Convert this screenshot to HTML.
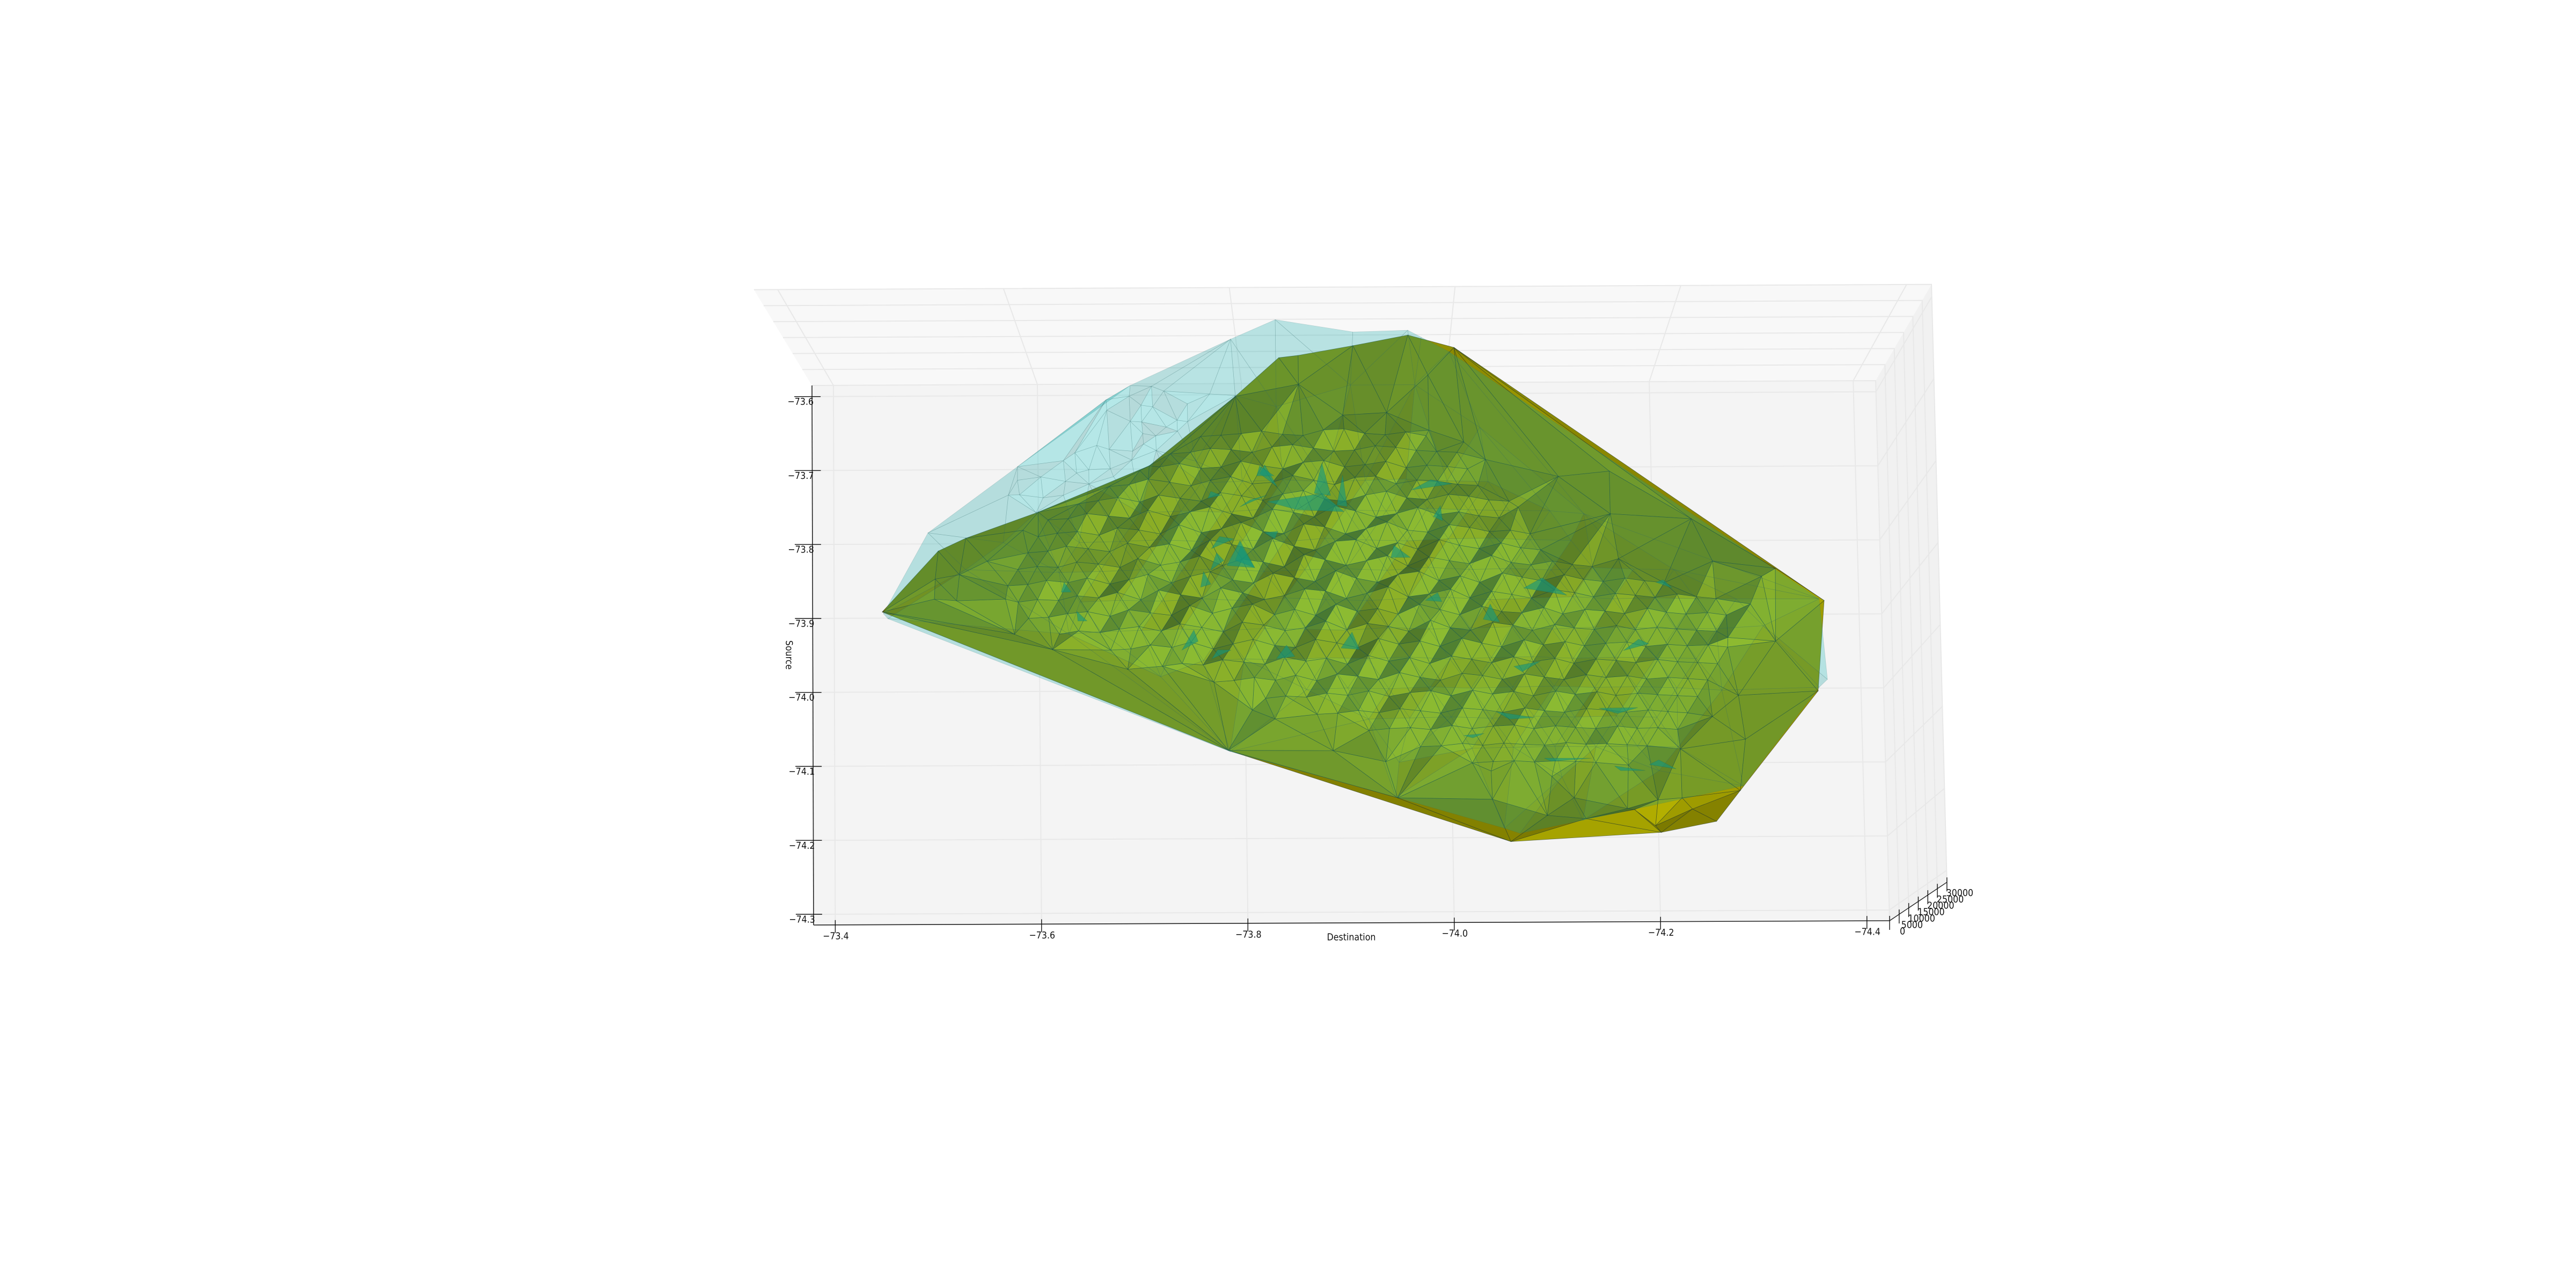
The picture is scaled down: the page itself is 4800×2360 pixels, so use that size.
<!DOCTYPE html>
<html lang="en">
<head>
<meta charset="utf-8">
<title>Trip surface by source and destination</title>
<style>
  html, body { margin: 0; padding: 0; background: #fff; }
  #chart { display: block; width: 4800px; height: 2360px; }
  text { font-family: "DejaVu Sans", "Liberation Sans", sans-serif; font-size: 18px; fill: #111; }
</style>
</head>
<body>
<svg id="chart" xmlns="http://www.w3.org/2000/svg" width="4800" height="2360" viewBox="0 0 4800 2360">
  <g id="walls"></g>
  <g id="grid"></g>
  <g id="surfaces"></g>
  <g id="axes"></g>
</svg>
<script>
const destinationTicks = [-73.4, -73.6, -73.8, -74.0, -74.2, -74.4];
const sourceTicks = [-73.6, -73.7, -73.8, -73.9, -74.0, -74.1, -74.2, -74.3];
const tripTicks = [0, 5000, 10000, 15000, 20000, 25000, 30000];
const destinationTickLabels = ['\u221273.4', '\u221273.6', '\u221273.8', '\u221274.0', '\u221274.2', '\u221274.4'];
const sourceTickLabels = ['\u221273.6', '\u221273.7', '\u221273.8', '\u221273.9', '\u221274.0', '\u221274.1', '\u221274.2', '\u221274.3'];
const tripTickLabels = ['0', '5000', '10000', '15000', '20000', '25000', '30000'];

const yellowOutline = [
  [-73.447,-73.892,100],[-73.502,-73.810,100],[-73.600,-73.758,100],[-73.709,-73.696,100],
  [-73.837,-73.551,150],[-73.856,-73.548,150],[-73.910,-73.535,100],[-73.964,-73.521,100],
  [-74.009,-73.538,100],[-74.366,-73.882,100],[-74.358,-74.004,100],[-74.280,-74.138,100],
  [-74.256,-74.180,300],[-74.202,-74.195,500],[-74.056,-74.207,700],[-73.783,-74.081,100]
];
const yellowOuterMesh = [
  [-73.499,-73.848,150],[-73.523,-73.843,350],[-73.498,-73.875,100],[-73.520,-73.878,300],
  [-73.568,-73.877,600],[-73.576,-73.923,150],[-73.585,-73.783,250],[-73.529,-73.793,150],
  [-73.550,-73.825,350],[-73.613,-73.944,200],[-73.686,-73.971,200],[-73.807,-74.027,250],
  [-73.829,-74.040,600],[-73.885,-74.082,150],[-73.936,-74.098,500],[-73.947,-74.146,100],
  [-74.039,-74.149,300],[-74.092,-74.171,250],[-74.118,-74.148,600],[-74.170,-74.162,200],
  [-74.199,-74.152,900],[-74.223,-74.148,300],[-74.038,-74.112,800],[-74.097,-74.119,500],
  [-74.171,-74.105,900],[-74.222,-74.083,700],[-74.254,-74.039,500],[-74.268,-73.939,2600],
  [-74.291,-73.893,2200],[-74.302,-73.857,2500],[-74.257,-73.831,900],[-74.166,-73.825,300],
  [-74.069,-73.755,350],[-74.038,-73.690,200],[-74.017,-73.666,150],[-73.983,-73.650,200],
  [-73.899,-73.629,150],[-73.856,-73.587,150],[-73.794,-73.603,150],[-73.942,-73.626,200],
  [-73.983,-73.575,100],[-74.317,-73.938,600],[-74.280,-74.010,300],[-74.286,-74.069,200],
  [-74.109,-73.713,150],[-74.159,-73.764,200],[-74.159,-73.706,100],[-74.238,-73.771,150],
  [-74.317,-73.843,1500],[-74.176,-74.165,900],[-74.197,-74.185,100],[-74.129,-74.177,900],
  [-74.233,-74.163,200]
];
const meshRowSource = [-73.66,-73.682,-73.704,-73.726,-73.748,-73.77,-73.792,-73.814,-73.836,-73.858,-73.88,-73.902,-73.924,-73.946,-73.968,-73.99,-74.012,-74.034,-74.056,-74.078,-74.1];
const meshRowStart = [-73.76,-73.73,-73.70,-73.67,-73.64,-73.61,-73.60,-73.59,-73.58,-73.57,-73.58,-73.59,-73.62,-73.67,-73.72,-73.77,-73.82,-73.87,-73.92,-73.97,-74.02];
const meshRowStep = 0.02;
const meshRowTrips = [
  [900,1300,1800,2600,1500,1100,2900,3200,1700,1200,2100,800],
  [600,1100,2400,1900,1000,2800,3500,2300,1300,1600,3000,2500,1400,1000,700],
  [500,1700,2900,1200,1600,3600,2000,900,3100,3700,1500,2200,3300,1100,1900,1400,600],
  [700,1300,3200,2100,800,2700,4000,1400,1900,4300,2600,1000,3500,3900,1200,2400,2000,900,500],
  [400,1500,2600,900,3400,2200,1100,4200,3000,1300,3600,4800,1700,900,3100,4400,2000,1400,3200,2500,1100,600],
  [500,900,2800,1800,1000,3900,1500,3200,5000,2400,800,4100,2900,1200,5200,3300,1000,2300,4500,1800,2800,1300,500],
  [300,1600,2200,800,3500,2700,1200,4600,1600,3000,5400,1900,1100,4700,3600,900,2800,5300,2200,1400,4200,3100,1500,2000,600],
  [400,1000,2900,1900,700,4000,2300,3600,1100,5100,3300,1400,5600,2500,1000,4300,4900,1600,3700,1200,4800,2600,1300,3400,1500,700],
  [300,1400,1100,3100,2300,900,4400,1700,3000,5300,1500,4000,2800,900,5700,3600,1400,3200,5100,1000,4500,3000,1800,5000,2200,1200,2700,1300,500],
  [300,800,2400,1500,3300,800,2600,4700,1200,3800,5600,2300,1000,4900,3100,1500,5800,2700,1100,4200,5400,1700,3500,900,4600,2900,1400,3800,1900,1000,2300,1200,400],
  [250,1300,900,2800,1900,4100,1000,5000,3000,1600,5800,3700,900,2500,5200,4300,1200,3300,6000,1800,2900,4900,1200,3900,2600,1000,4400,3200,1400,2800,2000,1100,2400,1300,500],
  [300,700,2200,3000,1000,3700,2400,1300,5400,2100,4200,5900,1400,3600,1000,5700,2700,3800,1400,5500,3300,1000,4600,2300,1700,3900,1200,3000,2300,1200,3400,1700,900,1500,400],
  [400,1800,1000,2500,3600,1500,4700,3100,1100,5300,4000,1500,2800,5600,1800,4500,3200,1000,5800,2500,1400,4800,3500,1200,3700,2200,1500,3100,1300,2400,1500,900,450],
  [500,1000,2700,1600,3900,800,3000,5000,2200,1300,4900,3300,1100,5200,2600,4000,1500,5100,2900,1200,4300,2000,3400,1500,2600,3100,1100,2000,1300,1600,700],
  [500,1700,1000,3300,2200,1200,4400,2500,3800,1000,5000,2300,3900,1200,4600,3000,1400,4100,1800,3300,1000,2900,2200,1200,2600,1500,1100,600],
  [600,1300,2600,1300,3600,1000,4100,3000,1500,4700,2400,1000,4200,3100,1300,3800,2300,1100,3300,2000,2700,1200,1900,1300,600],
  [500,1600,1000,2900,1800,3900,1200,3000,3800,1400,4000,2100,3300,1200,3400,1800,3000,1200,2200,1500,1000,500],
  [600,1100,2400,1200,3200,2100,900,3400,2500,1200,3300,1900,1100,2800,2100,1000,2000,1200,500],
  [500,1500,1900,900,2900,1300,2500,3000,1100,2500,1600,1100,2200,1100,1300,400],
  [500,900,2100,1100,2200,1500,1000,2300,1400,1700,1000,500],
  [400,1100,1500,800,1300,1000,400]
];
const cyanOutline = [
  [-73.448,-73.894,0],[-73.492,-73.785,0],[-73.580,-73.696,0],[-73.691,-73.587,0],
  [-73.790,-73.525,0],[-73.834,-73.499,0],[-73.910,-73.516,0],[-73.964,-73.514,0],
  [-73.977,-73.524,100],[-74.004,-73.544,200],[-74.361,-73.880,200],[-74.367,-73.989,300],
  [-74.358,-74.001,800],[-74.281,-74.135,1500],[-74.126,-74.179,900],[-74.065,-74.195,300],
  [-74.050,-74.188,300],[-73.945,-74.146,500],[-73.785,-74.084,700],[-73.453,-73.902,400]
];
const cyanUpperMesh = [
  [-73.712,-73.589,200],[-73.724,-73.596,300],[-73.769,-73.600,250],[-73.668,-73.610,900],
  [-73.668,-73.621,200],[-73.690,-73.602,150],[-73.691,-73.637,400],[-73.713,-73.617,250],
  [-73.702,-73.617,800],[-73.702,-73.637,150],[-73.747,-73.613,200],[-73.737,-73.637,700],
  [-73.747,-73.637,200],[-73.703,-73.653,250],[-73.726,-73.644,150],[-73.716,-73.658,700],
  [-73.737,-73.650,250],[-73.658,-73.669,300],[-73.637,-73.681,850],[-73.625,-73.689,200],
  [-73.638,-73.706,250],[-73.670,-73.674,200],[-73.693,-73.677,300],[-73.704,-73.669,700],
  [-73.671,-73.700,200],[-73.692,-73.689,300],[-73.580,-73.715,150],[-73.603,-73.711,250],
  [-73.627,-73.717,200],[-73.650,-73.721,300],[-73.571,-73.735,150],[-73.582,-73.735,250],
  [-73.605,-73.739,200],[-73.625,-73.736,300],[-73.598,-73.759,200],[-73.674,-73.711,250],
  [-73.794,-73.602,200],[-73.716,-73.676,250],[-73.650,-73.702,350]
];
const cyanLowerMesh = [
  [-73.529,-73.836,300],[-73.566,-73.800,400],
  [-73.755,-73.691,300],[-73.834,-73.618,400],[-73.907,-73.589,300],[-73.970,-73.589,300],
  [-74.033,-73.647,300],[-74.133,-73.764,300],[-74.306,-73.916,200],
  [-74.264,-74.003,300],[-73.629,-73.923,100],[-73.718,-73.981,100],
  [-73.949,-74.098,100],[-74.107,-74.119,200],[-74.201,-74.112,600]
];
const cyanRowSource = [-73.72,-73.76,-73.80,-73.84,-73.88,-73.92,-73.96,-74.00,-74.04,-74.08];
const cyanRowStart = [-73.76,-73.70,-73.64,-73.62,-73.64,-73.66,-73.76,-73.86,-73.92,-74.02];
const cyanRowStep = 0.04;
const cyanRowTrips = [
  [300,700,1200,500,900,1300,600,300],
  [200,800,400,1300,700,1000,500,1400,800,500,300],
  [300,600,1200,500,1000,300,1500,800,400,1100,1300,600,300],
  [200,500,1100,700,1400,300,900,1200,500,1600,700,1000,400,1200,600,300],
  [200,800,400,1300,500,1500,800,300,1100,1400,500,1000,1500,600,900,500,300],
  [200,600,1100,400,1200,900,300,1400,700,1000,1500,500,1200,800,400,300],
  [300,900,500,1300,800,1500,400,1100,1400,600,1000,700,300],
  [400,1000,600,1400,700,1200,1500,800,1100,500],
  [300,800,1200,500,1400,900,1300,600],
  [300,700,1100,800,1000,500]
];
const tealPatches = [
  [-73.824,-73.746,300],[-73.878,-73.736,500],[-73.853,-73.757,300],
  [-73.878,-73.736,500],[-73.899,-73.760,300],[-73.853,-73.757,300],
  [-73.878,-73.695,500],[-73.886,-73.738,300],[-73.870,-73.735,300],
  [-73.898,-73.711,500],[-73.902,-73.753,300],[-73.892,-73.751,300],
  [-73.817,-73.708,300],[-73.822,-73.697,500],[-73.834,-73.726,300],
  [-73.984,-73.718,500],[-74.005,-73.723,300],[-73.965,-73.731,300],
  [-73.993,-73.753,500],[-73.986,-73.767,300],[-73.995,-73.773,300],
  [-73.947,-73.806,400],[-73.963,-73.822,300],[-73.944,-73.822,300],
  [-74.091,-73.851,500],[-74.115,-73.874,300],[-74.073,-73.864,300],
  [-74.209,-73.854,400],[-74.218,-73.865,300],[-74.202,-73.857,300],
  [-74.040,-73.886,500],[-74.049,-73.910,300],[-74.033,-73.906,300],
  [-73.989,-73.870,400],[-73.993,-73.882,300],[-73.977,-73.880,300],
  [-73.798,-73.806,500],[-73.811,-73.835,300],[-73.792,-73.825,300],
  [-73.777,-73.793,400],[-73.791,-73.796,300],[-73.769,-73.809,300],
  [-73.797,-73.799,500],[-73.811,-73.835,300],[-73.784,-73.832,300],
  [-73.774,-73.815,400],[-73.781,-73.825,300],[-73.768,-73.838,300],
  [-73.761,-73.840,400],[-73.768,-73.857,300],[-73.758,-73.861,300],
  [-73.637,-73.893,400],[-73.647,-73.906,300],[-73.638,-73.906,300],
  [-73.625,-73.854,400],[-73.632,-73.867,300],[-73.622,-73.867,300],
  [-73.817,-73.698,400],[-73.831,-73.711,300],[-73.814,-73.711,300],
  [-73.769,-73.732,400],[-73.779,-73.737,300],[-73.766,-73.741,300],
  [-73.807,-73.744,400],[-73.824,-73.737,300],[-73.797,-73.753,300],
  [-73.821,-73.788,400],[-73.834,-73.786,300],[-73.831,-73.796,300],
  [-73.751,-73.919,400],[-73.755,-73.934,300],[-73.739,-73.946,300],
  [-73.841,-73.940,400],[-73.849,-73.955,300],[-73.831,-73.958,300],
  [-73.774,-73.946,400],[-73.787,-73.946,300],[-73.768,-73.958,300],
  [-73.905,-73.923,500],[-73.912,-73.946,300],[-73.894,-73.944,300],
  [-74.184,-73.934,400],[-74.194,-73.940,300],[-74.169,-73.949,300],
  [-74.144,-74.027,400],[-74.182,-74.026,300],[-74.162,-74.034,300],
  [-74.044,-74.031,400],[-74.081,-74.039,300],[-74.057,-74.041,300],
  [-74.090,-74.094,400],[-74.136,-74.094,300],[-74.097,-74.098,300],
  [-74.158,-74.105,400],[-74.188,-74.111,300],[-74.164,-74.111,300],
  [-74.201,-74.097,400],[-74.218,-74.109,300],[-74.192,-74.103,300],
  [-74.012,-74.063,400],[-74.032,-74.060,300],[-74.021,-74.066,300],
  [-74.062,-73.970,400],[-74.088,-73.963,300],[-74.070,-73.977,300]
];

const SVG_NS = 'http://www.w3.org/2000/svg';
const destinationEdges = [-73.379, -74.422];
const sourceEdges = [-73.585, -74.3145];
const tripMax = 30000;
const floorTL = [1513, 718];
const floorTR = [3495, 709];
const floorBL = [1516, 1723];
const floorBR = [3521, 1715];
const vanishing = [2523, 2385];
const depthGain = 0.107;

function axisU(d) { return (d - destinationEdges[0]) / (destinationEdges[1] - destinationEdges[0]); }
function axisV(s) { return (s - sourceEdges[0]) / (sourceEdges[1] - sourceEdges[0]); }
function project(d, s, z) {
  const u = axisU(d);
  const v = axisV(s);
  const x = (1 - v) * ((1 - u) * floorTL[0] + u * floorTR[0]) + v * ((1 - u) * floorBL[0] + u * floorBR[0]);
  const y = (1 - v) * ((1 - u) * floorTL[1] + u * floorTR[1]) + v * ((1 - u) * floorBL[1] + u * floorBR[1]);
  const f = 1 + depthGain * z / tripMax;
  return [vanishing[0] + (x - vanishing[0]) * f, vanishing[1] + (y - vanishing[1]) * f];
}
function ptsAttr(list) { return list.map(function (p) { return p[0].toFixed(1) + ',' + p[1].toFixed(1); }).join(' '); }

const wallsG = document.getElementById('walls');
const gridG = document.getElementById('grid');
const surfacesG = document.getElementById('surfaces');
const axesG = document.getElementById('axes');

function addPane(points, fill, name) {
  const el = document.createElementNS(SVG_NS, 'polygon');
  
  
  el.setAttribute('points', ptsAttr(points));
  el.setAttribute('fill', fill);
  wallsG.appendChild(el);
}
const dL = destinationEdges[0], dR = destinationEdges[1], sT = sourceEdges[0], sB = sourceEdges[1];
addPane([project(dL, sT, 0), project(dR, sT, 0), project(dR, sT, tripMax), project(dL, sT, tripMax)], '#f8f8f8', 'top-wall-pane');
addPane([project(dR, sT, 0), project(dR, sB, 0), project(dR, sB, tripMax), project(dR, sT, tripMax)], '#f1f1f1', 'right-wall-pane');
addPane([project(dL, sT, 0), project(dR, sT, 0), project(dR, sB, 0), project(dL, sB, 0)], '#f4f4f4', 'floor-pane');

function addGrid(points, name) {
  const el = document.createElementNS(SVG_NS, 'polyline');
  
  
  el.setAttribute('points', ptsAttr(points));
  el.setAttribute('fill', 'none');
  el.setAttribute('stroke', '#e8e8e8');
  el.setAttribute('stroke-width', '2');
  gridG.appendChild(el);
}
destinationTicks.forEach(function (d) {
  addGrid([project(d, sB, 0), project(d, sT, 0), project(d, sT, tripMax)], 'destination-grid-line');
});
sourceTicks.forEach(function (s) {
  addGrid([project(dL, s, 0), project(dR, s, 0), project(dR, s, tripMax)], 'source-grid-line');
});
tripTicks.forEach(function (z) {
  addGrid([project(dL, sT, z), project(dR, sT, z), project(dR, sB, z)], 'trips-grid-line');
});

function triangulate(points) {
  const pts = points.map(function (p) { return [(p[0] + 73.9) * 1923, (p[1] + 73.9) * 1377]; });
  const n = pts.length;
  const all = pts.concat([[-20000, -20000], [20000, -20000], [0, 20000]]);
  function circum(a, b, c) {
    const A = all[a], B = all[b], C = all[c];
    const dd = 2 * (A[0] * (B[1] - C[1]) + B[0] * (C[1] - A[1]) + C[0] * (A[1] - B[1]));
    const a2 = A[0] * A[0] + A[1] * A[1], b2 = B[0] * B[0] + B[1] * B[1], c2 = C[0] * C[0] + C[1] * C[1];
    const ux = (a2 * (B[1] - C[1]) + b2 * (C[1] - A[1]) + c2 * (A[1] - B[1])) / dd;
    const uy = (a2 * (C[0] - B[0]) + b2 * (A[0] - C[0]) + c2 * (B[0] - A[0])) / dd;
    return { a: a, b: b, c: c, x: ux, y: uy, r: (A[0] - ux) * (A[0] - ux) + (A[1] - uy) * (A[1] - uy) };
  }
  let tris = [circum(n, n + 1, n + 2)];
  for (let i = 0; i < n; i++) {
    const p = all[i];
    const keep = [];
    const edges = new Map();
    tris.forEach(function (t) {
      const dx = p[0] - t.x, dy = p[1] - t.y;
      if (dx * dx + dy * dy < t.r * (1 - 1e-9)) {
        [[t.a, t.b], [t.b, t.c], [t.c, t.a]].forEach(function (e) {
          const key = Math.min(e[0], e[1]) + '_' + Math.max(e[0], e[1]);
          edges.set(key, edges.has(key) ? null : e);
        });
      } else {
        keep.push(t);
      }
    });
    edges.forEach(function (e) {
      if (e) {
        const t = circum(e[0], e[1], i);
        if (isFinite(t.r)) keep.push(t);
      }
    });
    tris = keep;
  }
  return tris.filter(function (t) { return t.a < n && t.b < n && t.c < n; }).map(function (t) { return [t.a, t.b, t.c]; });
}
function insideOutline(x, y, outline) {
  let inside = false;
  for (let i = 0, j = outline.length - 1; i < outline.length; j = i++) {
    const a = outline[i], b = outline[j];
    if ((a[1] > y) !== (b[1] > y) && x < (b[0] - a[0]) * (y - a[1]) / (b[1] - a[1]) + a[0]) inside = !inside;
  }
  return inside;
}
function faceLight(pa, pb, pc, za, zb, zc, softness, steepBias) {
  const ux = pb[0] - pa[0], uy = pb[1] - pa[1], uz = zb - za;
  const vx = pc[0] - pa[0], vy = pc[1] - pa[1], vz = zc - za;
  const det = ux * vy - uy * vx;
  if (Math.abs(det) < 1e-6) return 0;
  const gx = (uz * vy - vz * uy) / det;
  const gy = (vz * ux - uz * vx) / det;
  const lit = -(gx * 0.5 + gy * 0.85);
  const steep = Math.min(1, Math.sqrt(gx * gx + gy * gy) / 45);
  return Math.tanh(Math.sign(lit) * Math.sqrt(Math.abs(lit) / softness) + steepBias * steep);
}
function buildFacets(vertices, outlineCount, softness, steepBias) {
  const outline = vertices.slice(0, outlineCount);
  const out = [];
  triangulate(vertices).forEach(function (t) {
    const A = vertices[t[0]], B = vertices[t[1]], C = vertices[t[2]];
    const cx = (A[0] + B[0] + C[0]) / 3, cy = (A[1] + B[1] + C[1]) / 3;
    if (!insideOutline(cx, cy, outline)) return;
    const pa = project(A[0], A[1], A[2]), pb = project(B[0], B[1], B[2]), pc = project(C[0], C[1], C[2]);
    const qa = project(A[0], A[1], 0), qb = project(B[0], B[1], 0), qc = project(C[0], C[1], 0);
    out.push({
      pts: [pa, pb, pc],
      depth: (A[2] + B[2] + C[2]) / 3,
      light: faceLight(qa, qb, qc, A[2], B[2], C[2], softness, steepBias)
    });
  });
  out.sort(function (p, q) { return p.depth - q.depth; });
  return out;
}

const yellowVertices = yellowOutline.concat(yellowOuterMesh);
meshRowTrips.forEach(function (row, r) {
  row.forEach(function (z, c) {
    yellowVertices.push([meshRowStart[r] - c * meshRowStep, meshRowSource[r], z]);
  });
});
const cyanVertices = cyanOutline.concat(cyanUpperMesh, cyanLowerMesh);
cyanRowTrips.forEach(function (row, r) {
  row.forEach(function (z, c) {
    cyanVertices.push([cyanRowStart[r] - c * cyanRowStep, cyanRowSource[r], z]);
  });
});

buildFacets(yellowVertices, yellowOutline.length, 60, 0.55).forEach(function (f) {
  const s = 0.57 + (f.light > 0 ? 0.18 : 0.26) * f.light;
  const el = document.createElementNS(SVG_NS, 'polygon');
  
  
  el.setAttribute('points', ptsAttr(f.pts));
  el.setAttribute('fill', 'rgb(' + Math.round(s * 255) + ',' + Math.round(s * 250) + ',0)');
  el.setAttribute('stroke', 'rgba(25,50,40,0.55)');
  el.setAttribute('stroke-width', '0.8');
  surfacesG.appendChild(el);
});
buildFacets(cyanVertices, cyanOutline.length, 12, 0).forEach(function (f) {
  const c = Math.round((0.72 + (f.light > 0 ? 0.05 : 0.2) * f.light) * 255);
  const el = document.createElementNS(SVG_NS, 'polygon');
  
  
  el.setAttribute('points', ptsAttr(f.pts));
  el.setAttribute('fill', 'rgba(0,' + c + ',' + c + ',0.26)');
  el.setAttribute('stroke', 'rgba(50,105,105,0.22)');
  el.setAttribute('stroke-width', '0.7');
  surfacesG.appendChild(el);
});
for (let i = 0; i + 2 < tealPatches.length; i += 3) {
  const tri = [tealPatches[i], tealPatches[i + 1], tealPatches[i + 2]].map(function (p) { return project(p[0], p[1], p[2]); });
  const el = document.createElementNS(SVG_NS, 'polygon');
  
  
  el.setAttribute('points', ptsAttr(tri));
  el.setAttribute('fill', 'rgba(20,150,125,0.62)');
  el.setAttribute('stroke', 'rgba(20,90,80,0.3)');
  el.setAttribute('stroke-width', '0.6');
  surfacesG.appendChild(el);
}

function addLine(a, b, name, color, width) {
  const el = document.createElementNS(SVG_NS, 'line');
  
  
  el.setAttribute('x1', a[0].toFixed(1));
  el.setAttribute('y1', a[1].toFixed(1));
  el.setAttribute('x2', b[0].toFixed(1));
  el.setAttribute('y2', b[1].toFixed(1));
  el.setAttribute('stroke', color);
  el.setAttribute('stroke-width', width);
  axesG.appendChild(el);
}
function addText(x, y, content, name, extra) {
  const el = document.createElementNS(SVG_NS, 'text');
  
  
  el.setAttribute('x', x.toFixed(1));
  el.setAttribute('y', y.toFixed(1));
  el.setAttribute('text-anchor', extra || 'middle');
  el.setAttribute('dominant-baseline', 'central');
  el.textContent = content;
  axesG.appendChild(el);
  el.setAttribute('textLength', (el.getComputedTextLength() * 0.88).toFixed(1));
  el.setAttribute('lengthAdjust', 'spacingAndGlyphs');
  return el;
}
addLine(project(dL, sB, 0), project(dR, sB, 0), 'destination-axis-line', '#222', 1.6);
addLine(project(dL, sT, 0), project(dL, sB, 0), 'source-axis-line', '#222', 1.6);
addLine(project(dR, sB, 0), project(dR, sB, tripMax), 'trips-axis-line', '#222', 1.4);

destinationTicks.forEach(function (d, i) {
  const p = project(d, sB, 0);
  addLine([p[0], p[1] - 9], [p[0], p[1] + 15], 'destination-tick', '#111', 1.4);
  addText(p[0] + 1, p[1] + 21, destinationTickLabels[i], 'destination-tick-label');
});
sourceTicks.forEach(function (s, i) {
  const p = project(dL, s, 0);
  addLine([p[0] - 33, p[1]], [p[0] + 16, p[1]], 'source-tick', '#111', 1.4);
  addText(p[0] + 3, p[1] + 10, sourceTickLabels[i], 'source-tick-label', 'end');
});
tripTicks.forEach(function (z, i) {
  const p = project(dR, sB, z);
  addLine([p[0], p[1] - 9], [p[0], p[1] + 17], 'trips-tick', '#111', 1.4);
  addText(p[0] + 24, p[1] + 20, tripTickLabels[i], 'trips-tick-label');
});
addText(2518, 1746, 'Destination', 'destination-axis-title');
const sourceTitle = addText(1470, 1220, 'Source', 'source-axis-title');
sourceTitle.setAttribute('transform', 'rotate(90 1470 1220)');
</script>
</body>
</html>
